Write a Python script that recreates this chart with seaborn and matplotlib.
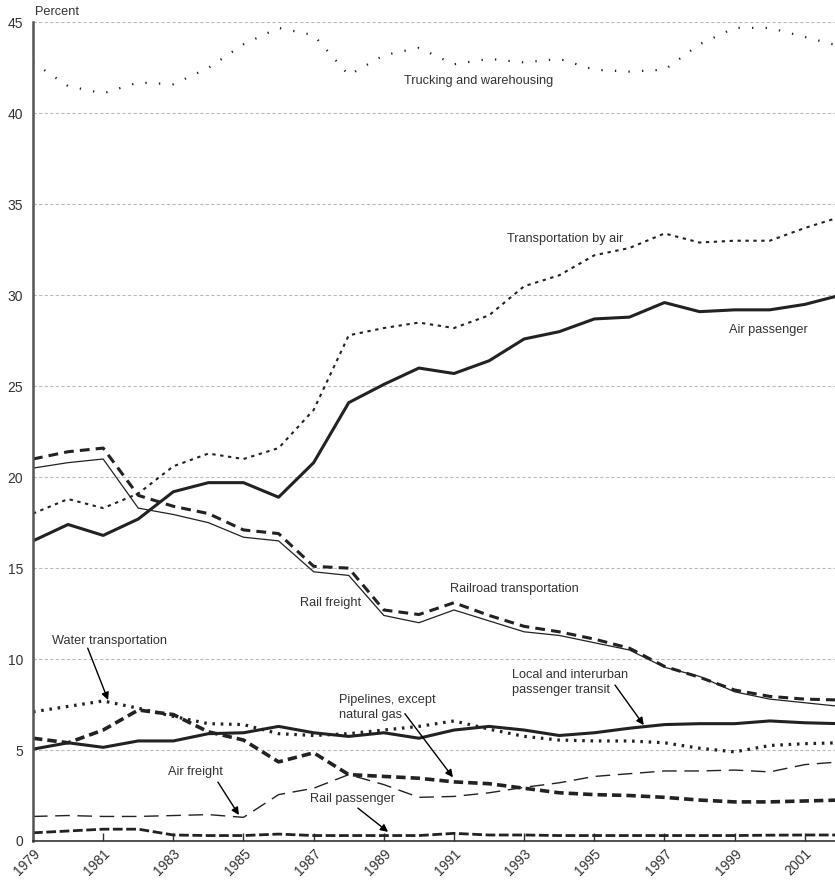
import numpy as np
import pandas as pd
import matplotlib
matplotlib.use("Agg")
import matplotlib.pyplot as plt
import seaborn as sns

# data (percent), 1979-2002
years = list(range(1979, 2003))

trucking = [42.8, 41.5, 41.1, 41.7, 41.6, 42.5, 43.8, 44.7, 44.3, 42.1, 43.2, 43.6,
            42.7, 43.0, 42.8, 43.0, 42.4, 42.3, 42.4, 43.8, 44.7, 44.7, 44.2, 43.7]
trans_air = [18.0, 18.8, 18.3, 19.1, 20.6, 21.3, 21.0, 21.6, 23.7, 27.8, 28.2, 28.5,
             28.2, 28.9, 30.5, 31.1, 32.2, 32.6, 33.4, 32.9, 33.0, 33.0, 33.7, 34.3]
air_pass = [16.5, 17.4, 16.8, 17.7, 19.2, 19.7, 19.7, 18.9, 20.8, 24.1, 25.1, 26.0,
            25.7, 26.4, 27.6, 28.0, 28.7, 28.8, 29.6, 29.1, 29.2, 29.2, 29.5, 30.0]
railroad = [21.0, 21.4, 21.6, 19.0, 18.4, 18.0, 17.1, 16.9, 15.1, 15.0, 12.7, 12.45,
            13.1, 12.4, 11.8, 11.5, 11.1, 10.6, 9.6, 9.0, 8.3, 7.95, 7.8, 7.75]
rail_freight = [20.5, 20.8, 21.0, 18.3, 17.95, 17.5, 16.7, 16.5, 14.8, 14.6, 12.4, 12.0,
                12.7, 12.1, 11.5, 11.3, 10.9, 10.5, 9.55, 9.05, 8.2, 7.8, 7.6, 7.4]
water = [7.1, 7.4, 7.7, 7.3, 6.85, 6.45, 6.4, 5.9, 5.8, 5.9, 6.1, 6.3,
         6.6, 6.15, 5.75, 5.55, 5.5, 5.5, 5.4, 5.1, 4.9, 5.25, 5.35, 5.4]
transit = [5.05, 5.4, 5.15, 5.5, 5.5, 5.9, 5.95, 6.3, 5.95, 5.75, 5.95, 5.65,
           6.1, 6.3, 6.1, 5.8, 5.95, 6.2, 6.4, 6.45, 6.45, 6.6, 6.5, 6.45]
pipelines = [5.65, 5.4, 6.1, 7.2, 6.95, 6.0, 5.55, 4.35, 4.85, 3.65, 3.55, 3.45,
             3.25, 3.15, 2.9, 2.65, 2.55, 2.5, 2.4, 2.25, 2.15, 2.15, 2.2, 2.25]
air_freight = [1.35, 1.4, 1.35, 1.35, 1.4, 1.45, 1.3, 2.55, 2.9, 3.65, 3.1, 2.4,
               2.45, 2.65, 2.95, 3.2, 3.55, 3.7, 3.85, 3.85, 3.9, 3.8, 4.2, 4.35]
rail_pass = [0.45, 0.55, 0.65, 0.65, 0.33, 0.3, 0.3, 0.38, 0.3, 0.3, 0.3, 0.3,
             0.42, 0.33, 0.33, 0.3, 0.3, 0.3, 0.3, 0.3, 0.3, 0.32, 0.33, 0.33]

sns.set_style("white")
plt.rcParams['font.family'] = ['Liberation Sans', 'DejaVu Sans']

fig = plt.figure(figsize=(8.35, 8.81), dpi=100)
ax = fig.add_axes([33/835, 40/881, (835-33)/835, (859-40)/881 - 0.0005])

ink = "#222222"
# name, values, linewidth, linestyle
series = [
    ("Trucking and warehousing", trucking, 1.6, (0, (0.6, 5.5))),
    ("Transportation by air", trans_air, 1.5, (0, (1.6, 2.2))),
    ("Air passenger", air_pass, 2.2, "-"),
    ("Railroad transportation", railroad, 2.2, (0, (3.2, 2.0))),
    ("Rail freight", rail_freight, 0.9, "-"),
    ("Water transportation", water, 2.3, (0, (0.8, 1.8))),
    ("Local and interurban passenger transit", transit, 2.2, "-"),
    ("Pipelines, except natural gas", pipelines, 2.6, (0, (2.6, 1.4))),
    ("Air freight", air_freight, 1.0, (0, (10.5, 5.5))),
    ("Rail passenger", rail_pass, 2.0, (0, (3.5, 1.3))),
]

for name, vals, lw, ls in series:
    sns.lineplot(x=years, y=vals, ax=ax, color=ink, lw=lw, linestyle=ls)

ax.set_xlim(1979, 2001.86)
ax.set_ylim(0, 45)
ax.set_yticks(range(0, 46, 5))
ax.set_xticks(range(1979, 2002, 2))
ax.set_xlabel("")
ax.set_ylabel("")

ax.yaxis.grid(True, color="#bbbbbb", linestyle=(0, (3, 2)), lw=0.8)
ax.xaxis.grid(False)
for s in ["top", "right"]:
    ax.spines[s].set_visible(False)
ax.spines["left"].set_color("#555555")
ax.spines["left"].set_linewidth(1.8)
ax.spines["bottom"].set_color("#333333")
ax.spines["bottom"].set_linewidth(1.2)

ax.tick_params(axis="y", length=0, pad=7, labelsize=10, labelcolor="#333333")
ax.tick_params(axis="x", direction="in", length=6, width=1, color="#333333",
               pad=4, labelsize=10, labelcolor="#333333", bottom=True)
for lab in ax.get_xticklabels():
    lab.set_rotation(45)
    lab.set_ha("right")
    lab.set_rotation_mode("anchor")

fig.text(35/835, 1 - 12/881, "Percent", fontsize=9.2, color="#333333", va="center")

txt = dict(fontsize=9.2, color="#333333", va="center", ha="left")
ax.text(1989.57, 41.8, "Trucking and warehousing", **txt)
ax.text(1992.5, 33.1, "Transportation by air", **txt)
ax.text(1998.84, 28.1, "Air passenger", **txt)
ax.text(1990.88, 13.85, "Railroad transportation", **txt)
ax.text(1986.61, 13.1, "Rail freight", **txt)
ax.text(1979.54, 11.0, "Water transportation", **txt)
ax.text(1982.85, 3.8, "Air freight", **txt)
ax.text(1986.9, 2.3, "Rail passenger", **txt)
ax.text(1987.72, 7.35, "Pipelines, except\nnatural gas", linespacing=1.35, **txt)
ax.text(1992.65, 8.7, "Local and interurban\npassenger transit", linespacing=1.35, **txt)

arrow = dict(arrowstyle="-|>", color="black", lw=1.0, mutation_scale=11, shrinkA=0, shrinkB=0)
ax.annotate("", xy=(1981.14, 7.75), xytext=(1980.56, 10.6), arrowprops=arrow)
ax.annotate("", xy=(1984.87, 1.43), xytext=(1984.27, 3.24), arrowprops=arrow)
ax.annotate("", xy=(1989.12, 0.5), xytext=(1988.26, 1.81), arrowprops=arrow)
ax.annotate("", xy=(1990.97, 3.5), xytext=(1989.6, 7.0), arrowprops=arrow)
ax.annotate("", xy=(1996.41, 6.37), xytext=(1995.59, 8.57), arrowprops=arrow)

fig.savefig("out.png", dpi=100)
